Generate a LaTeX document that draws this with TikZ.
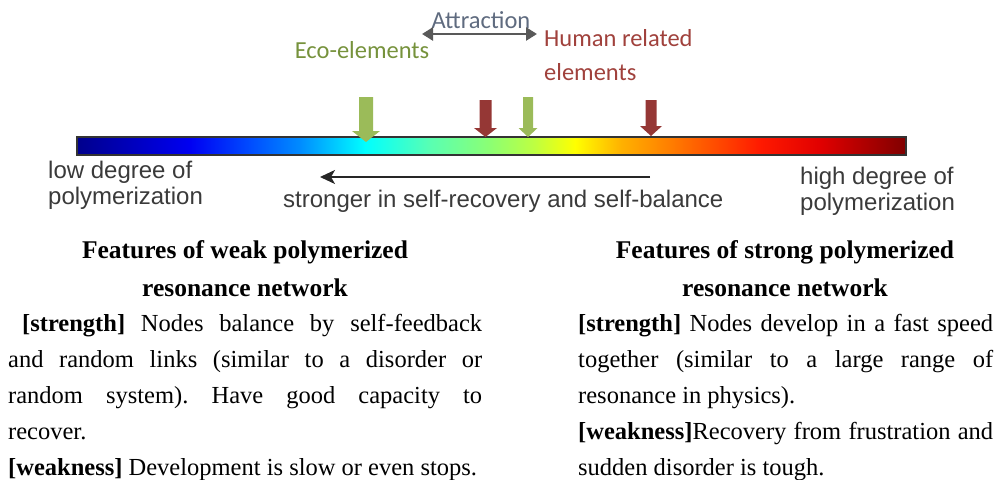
\documentclass[tikz,border=0pt]{standalone}
\usepackage{fontspec}
\setmainfont{Liberation Serif}
\newfontfamily\labelfont{Carlito}
\newfontfamily\scalefont{Liberation Sans}
\usetikzlibrary{arrows.meta}
\frenchspacing

% palette
\definecolor{ecogreen}{RGB}{155,187,89}
\definecolor{ecotext}{RGB}{118,146,60}
\definecolor{humanred}{RGB}{149,55,53}
\definecolor{humantext}{RGB}{160,65,60}
\definecolor{attrtext}{RGB}{95,107,127}
\definecolor{attrline}{RGB}{89,89,89}
\definecolor{scaletext}{RGB}{58,58,58}
% jet colour stops along the scale
\definecolor{j0}{rgb}{0,0,0.55}
\definecolor{j1}{rgb}{0,0,0.95}
\definecolor{j2}{rgb}{0,0.3,1}
\definecolor{j3}{rgb}{0,0.55,1}
\definecolor{j4}{rgb}{0,1,1}
\definecolor{j5}{rgb}{0.35,1,0.7}
\definecolor{j6}{rgb}{0.55,1,0.45}
\definecolor{j7}{rgb}{0.75,1,0.25}
\definecolor{j8}{rgb}{1,1,0}
\definecolor{j9}{rgb}{1,0.7,0}
\definecolor{j10}{rgb}{1,0.45,0}
\definecolor{j11}{rgb}{1,0.1,0}
\definecolor{j12}{rgb}{0.88,0,0}
\definecolor{j13}{rgb}{0.5,0,0}

% a block arrow pointing down: centre x, top, neck, tip, half shaft, half head, colour
\newcommand\markerdown[7]{%
  \fill[#7] (#1-#5,#2) -- (#1+#5,#2) -- (#1+#5,#3) -- (#1+#6,#3) -- (#1,#4)
    -- (#1-#6,#3) -- (#1-#5,#3) -- cycle;}
% one shaded piece of the scale bar
\newcommand\jetpiece[4]{\shade[left color=#3,right color=#4] (#1,137) rectangle (#2+0.4,155);}

\tikzset{
  toplabel/.style={font=\labelfont\fontsize{24.5}{26}\selectfont, inner sep=0pt},
  scalelabel/.style={font=\scalefont\fontsize{24}{26}\selectfont, text=scaletext, inner sep=0pt, align=left},
  headline/.style={font=\bfseries\fontsize{25.5}{36}\selectfont, inner sep=0pt},
  bodytext/.style={font=\fontsize{24.5}{36}\selectfont, inner sep=0pt, align=justify},
}

\begin{document}
\begin{tikzpicture}[x=1pt,y=-1pt]
\useasboundingbox (0,0) rectangle (998,479);

% colour scale
\jetpiece{77}{190}{j0}{j1}
\jetpiece{190}{250}{j1}{j2}
\jetpiece{250}{300}{j2}{j3}
\jetpiece{300}{365}{j3}{j4}
\jetpiece{365}{430}{j4}{j5}
\jetpiece{430}{490}{j5}{j6}
\jetpiece{490}{535}{j6}{j7}
\jetpiece{535}{575}{j7}{j8}
\jetpiece{575}{620}{j8}{j9}
\jetpiece{620}{680}{j9}{j10}
\jetpiece{680}{760}{j10}{j11}
\jetpiece{760}{820}{j11}{j12}
\jetpiece{820}{906}{j12}{j13}
\draw[black!80, line width=1.2pt] (77,137) rectangle (906,155);

% position markers above the scale
\markerdown{366}{97}{131}{142}{7}{14}{ecogreen}
\markerdown{485.5}{100}{128}{137}{6}{11.5}{humanred}
\markerdown{528}{97}{128}{137}{5}{9.5}{ecogreen}
\markerdown{651}{100}{126}{136}{5.5}{11}{humanred}

% top labels
\node[toplabel, text=attrtext] (attraction) at (481,20) {Attraction};
\node[toplabel, text=ecotext] (eco) at (362,50) {Eco-elements};
\node[toplabel, text=humantext, anchor=west] (human) at (544,38) {Human related};
\node[toplabel, text=humantext, anchor=west] (human2) at (544,72) {elements};
\coordinate (attrL) at (422,34);
\coordinate (attrR) at (537,34);
\draw[attrline, line width=2.5pt, {Triangle[length=11pt,width=13pt]}-{Triangle[length=11pt,width=13pt]}] (attrL) -- (attrR);

% labels under the scale
\node[scalelabel, anchor=north west] (low) at (48,161) {low degree of\\polymerization};
\node[scalelabel, anchor=north west] (high) at (800,167) {high degree of\\polymerization};
\node[scalelabel, anchor=west] (stronger) at (283,201) {stronger in self-recovery and self-balance};
\coordinate (trendR) at (650,177);
\coordinate (trendL) at (320,177);
\draw[black!85, line width=1.8pt, -{Stealth[length=15pt,width=14pt,inset=4pt]}] (trendR) -- (trendL);

% weak network column
\node[headline] (weakT1) at (245,252) {Features of weak polymerized};
\node[headline] (weakT2) at (245,288) {resonance network};
\node[bodytext, text width=474pt, anchor=north west] (weakB) at (8,314) {%
\hspace*{14pt}\textbf{[strength]} Nodes balance by self-feedback\linebreak
and random links (similar to a disorder or\linebreak
random system). Have good capacity to\linebreak
recover.\par
\textbf{[weakness]} Development is slow or even stops.};

% strong network column
\node[headline] (strongT1) at (785,252) {Features of strong polymerized};
\node[headline] (strongT2) at (785,288) {resonance network};
\node[bodytext, text width=415pt, anchor=north west] (strongB) at (578,314) {%
\textbf{[strength]} Nodes develop in a fast speed\linebreak
together (similar to a large range of\linebreak
resonance in physics).\par
\textbf{[weakness]}Recovery from frustration and\linebreak
sudden disorder is tough.};
\end{tikzpicture}
\end{document}
